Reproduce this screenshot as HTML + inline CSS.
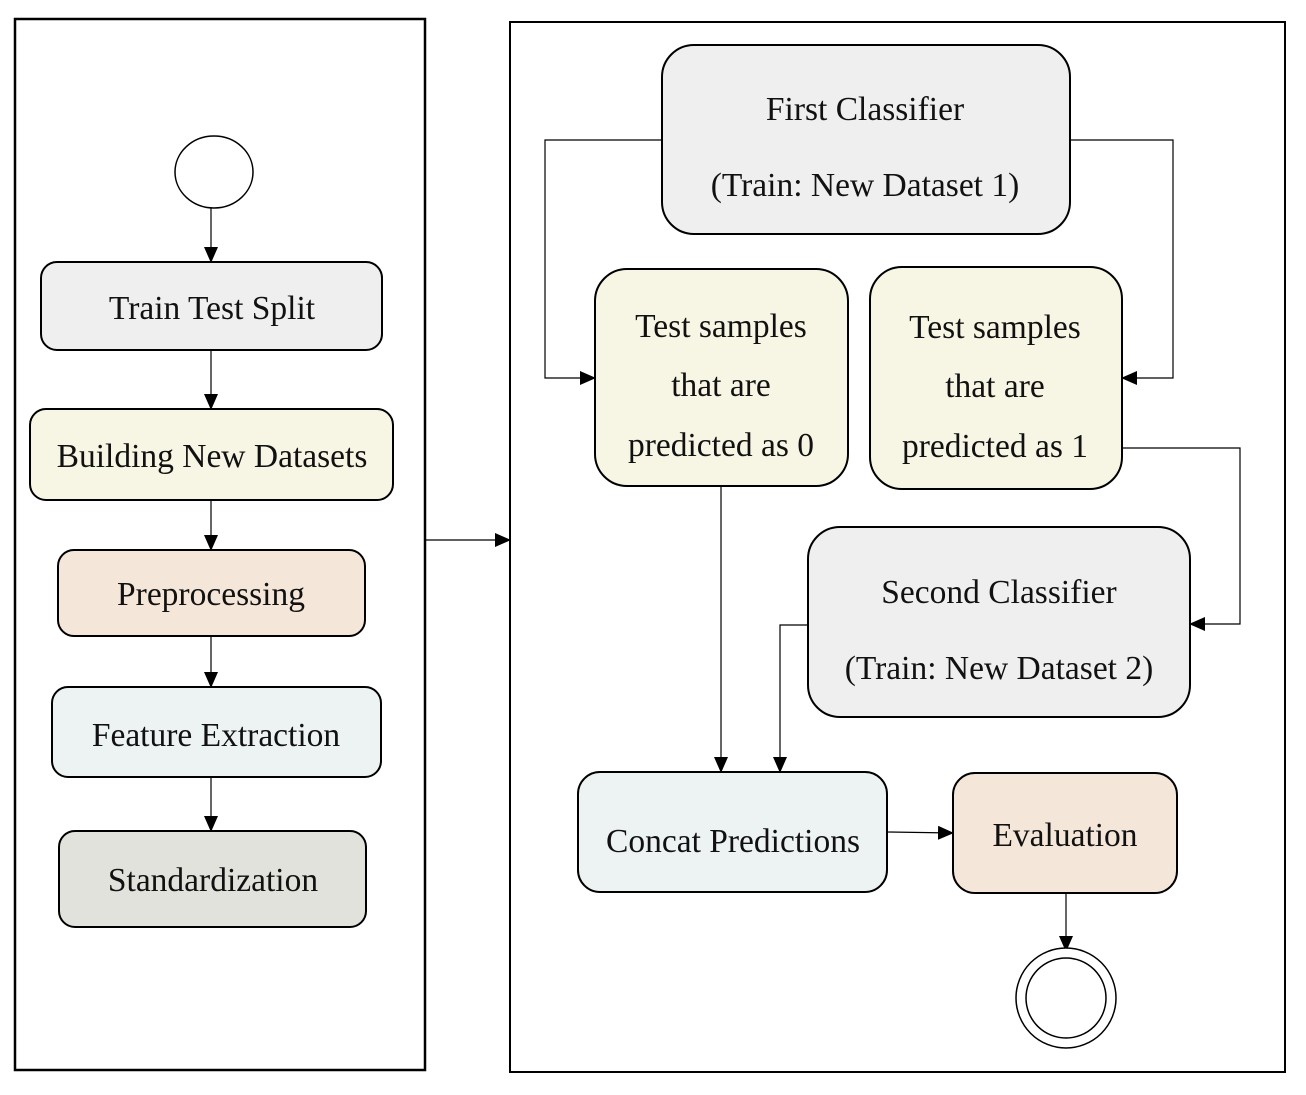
<!DOCTYPE html>
<html><head><meta charset="utf-8"><style>
html,body{margin:0;padding:0;background:#fff;}
svg text{font-family:"Liberation Serif",serif;font-size:33.5px;fill:#111;text-anchor:middle;}
</style></head><body>
<svg width="1306" height="1090" viewBox="0 0 1306 1090" xmlns="http://www.w3.org/2000/svg">
<defs>
<marker id="a" markerWidth="16" markerHeight="14" refX="15" refY="7" orient="auto" markerUnits="userSpaceOnUse">
<path d="M0,0 L16,7 L0,14 z" fill="#000"/></marker>
</defs>
<rect x="15" y="19" width="410" height="1051" fill="none" stroke="#000" stroke-width="2.5"/>
<rect x="510" y="22" width="775" height="1050" fill="none" stroke="#000" stroke-width="2"/>

<ellipse cx="214" cy="172" rx="39" ry="36" fill="#fff" stroke="#000" stroke-width="1.5"/>
<g stroke="#000" stroke-width="1.2" fill="none" marker-end="url(#a)">
<line x1="211" y1="208" x2="211" y2="262"/>
<line x1="211" y1="350" x2="211" y2="409"/>
<line x1="211" y1="500" x2="211" y2="550"/>
<line x1="211" y1="636" x2="211" y2="687"/>
<line x1="211" y1="777" x2="211" y2="831"/>
<line x1="425" y1="540" x2="510" y2="540"/>
<polyline points="662,140 545,140 545,378 595,378"/>
<polyline points="1070,140 1173,140 1173,378 1122,378"/>
<polyline points="1122,448 1240,448 1240,624 1190,624"/>
<line x1="721" y1="486" x2="721" y2="772"/>
<polyline points="808,625 780,625 780,772"/>
<line x1="887" y1="832" x2="953" y2="833"/>
<line x1="1066" y1="893" x2="1066" y2="951"/>
</g>

<g stroke="#000" stroke-width="2">
<rect x="41" y="262" width="341" height="88" rx="16" fill="#efefef"/>
<rect x="30" y="409" width="363" height="91" rx="16" fill="#f7f5e3"/>
<rect x="58" y="550" width="307" height="86" rx="16" fill="#f4e6d8"/>
<rect x="52" y="687" width="329" height="90" rx="16" fill="#edf2f2"/>
<rect x="59" y="831" width="307" height="96" rx="16" fill="#e1e2dc"/>
<rect x="662" y="45" width="408" height="189" rx="32" fill="#efefef"/>
<rect x="595" y="269" width="253" height="217" rx="32" fill="#f7f5e3"/>
<rect x="870" y="267" width="252" height="222" rx="32" fill="#f7f5e3"/>
<rect x="808" y="527" width="382" height="190" rx="32" fill="#efefef"/>
<rect x="578" y="772" width="309" height="120" rx="22" fill="#edf2f2"/>
<rect x="953" y="773" width="224" height="120" rx="22" fill="#f4e6d8"/>
</g>
<circle cx="1066" cy="998" r="50" fill="#fff" stroke="#000" stroke-width="1.5"/>
<circle cx="1066" cy="998" r="40" fill="#fff" stroke="#000" stroke-width="1.5"/>

<text x="212" y="319">Train Test Split</text>
<text x="212" y="467">Building New Datasets</text>
<text x="211" y="605">Preprocessing</text>
<text x="216" y="746">Feature Extraction</text>
<text x="213" y="891">Standardization</text>
<text x="865" y="120">First Classifier</text>
<text x="865" y="196">(Train: New Dataset 1)</text>
<text x="721" y="337">Test samples</text>
<text x="721" y="396">that are</text>
<text x="721" y="456">predicted as 0</text>
<text x="995" y="338">Test samples</text>
<text x="995" y="397">that are</text>
<text x="995" y="457">predicted as 1</text>
<text x="999" y="603">Second Classifier</text>
<text x="999" y="679">(Train: New Dataset 2)</text>
<text x="733" y="852">Concat Predictions</text>
<text x="1065" y="846">Evaluation</text>
</svg>
</body></html>
